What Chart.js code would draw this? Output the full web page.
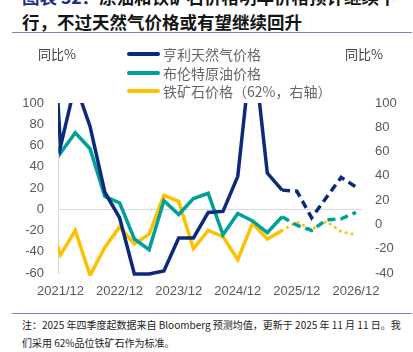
<!DOCTYPE html>
<html>
<head>
<meta charset="utf-8">
<script src="https://cdn.jsdelivr.net/npm/chart.js@4.4.0/dist/chart.umd.min.js"></script>
<style>
  html, body { margin: 0; padding: 0; background: #fff; }
  body { width: 413px; height: 352px; position: relative; overflow: hidden; font-family: 'Noto Sans CJK SC', sans-serif; }
  .title { position: absolute; left: 22px; font-size: 17.5px; font-weight: 700; line-height: 22px; color: #151515; white-space: nowrap; }
  .title .tag { color: #1d2c86; }
  .rule { position: absolute; left: 12px; width: 400px; height: 1px; background: #8080b8; }
  #chart-box { position: absolute; left: 0; top: 36px; width: 413px; height: 272px; }
  .legend { position: absolute; left: 127px; top: 45px; font-size: 14px; color: #666; }
  .legend-item { display: flex; align-items: center; height: 18.5px; white-space: nowrap; }
  .legend-line { width: 33px; height: 4px; margin-right: 3px; border-radius: 2px; }
  .unit { position: absolute; top: 45px; font-size: 13px; line-height: 18px; color: #404040; }
  .note { position: absolute; left: 22px; font-size: 10px; line-height: 18px; color: #222; white-space: nowrap; }
</style>
</head>
<body>
<div class="title" style="top:-14px"><span class="tag">图表 32：</span>原油和铁矿石价格明年价格预计继续下</div>
<div class="title" style="top:10.5px">行，不过天然气价格或有望继续回升</div>
<div class="rule" style="top:32px"></div>

<div id="chart-box"><canvas id="chart"></canvas></div>

<div class="unit" style="left:38px">同比%</div>
<div class="unit" style="left:345px">同比%</div>
<div class="legend" id="legend"></div>

<div class="rule" style="top:313px"></div>
<div class="note" style="top:316px">注：2025 年四季度起数据来自 Bloomberg 预测均值，更新于 2025 年 11 月 11 日。我</div>
<div class="note" style="top:334px">们采用 62%品位铁矿石作为标准。</div>

<script>
// quarterly YoY %, first quarter only feeds the line entering the left edge
const quarters = [
  '2021/09', '2021/12', '2022/03', '2022/06', '2022/09', '2022/12',
  '2023/03', '2023/06', '2023/09', '2023/12', '2024/03', '2024/06',
  '2024/09', '2024/12', '2025/03', '2025/06', '2025/09', '2025/12',
  '2026/03', '2026/06', '2026/09', '2026/12',
];
const henryHubYoY = [300, 59, 118, 78, 16, -8, -61, -61, -58, -27, -27, -3, -2, 31, 160, 34, 18, 17, -8, 11, 30, 21];
const brentYoY = [75, 53, 72, 57, 12, 6, -28, -38, 8, -5, 10, 15, -24, -4, -11, -22, -7, -15, -20, -10, -9, -3];
const ironOreYoY = [10, -25, -5, -42, -19, -2, -16, -8, 24, 19, -20, -5, -10, -29, 1, -12, -5, 2, -4, 2.5, -6, -8.5];

const seriesNames = ['亨利天然气价格', '布伦特原油价格', '铁矿石价格（62%，右轴）'];
const seriesColors = ['#0b2a78', '#00a099', '#ffc000'];
const lastActual = '2025/09';
const xTickLabels = ['2021/12', '2022/12', '2023/12', '2024/12', '2025/12', '2026/12'];
const leftAxisRange = [-60, 100];
const rightAxisRange = [-40, 100];

const firstShown = quarters.indexOf('2021/12');
const forecastIndex = quarters.indexOf(lastActual);

function toPoints(values) {
  return values.map((v, i) => ({ x: i, y: v }));
}

function isForecast(ctx) {
  return ctx.p0.parsed.x >= forecastIndex;
}

const tickFont = { family: "'Liberation Sans', Arial, sans-serif", size: 13 };
const edgeClip = { left: 0, top: 0, right: 2, bottom: 3 };

// legend as plain text next to coloured bars
const legendEl = document.getElementById('legend');
seriesNames.forEach((name, i) => {
  const item = document.createElement('div');
  item.className = 'legend-item';
  const bar = document.createElement('span');
  bar.className = 'legend-line';
  bar.style.background = seriesColors[i];
  const label = document.createElement('span');
  label.textContent = name;
  item.appendChild(bar);
  item.appendChild(label);
  legendEl.appendChild(item);
});

new Chart(document.getElementById('chart'), {
  type: 'line',
  data: {
    datasets: [
      {
        label: seriesNames[0],
        data: toPoints(henryHubYoY),
        borderColor: seriesColors[0],
        borderWidth: 3.5,
        yAxisID: 'y',
        clip: edgeClip,
        segment: { borderDash: ctx => (isForecast(ctx) ? [8, 5] : undefined) },
      },
      {
        label: seriesNames[1],
        data: toPoints(brentYoY),
        borderColor: seriesColors[1],
        borderWidth: 3.5,
        yAxisID: 'y',
        clip: edgeClip,
        segment: { borderDash: ctx => (isForecast(ctx) ? [8, 5] : undefined) },
      },
      {
        label: seriesNames[2],
        data: toPoints(ironOreYoY),
        borderColor: seriesColors[2],
        borderWidth: 3.5,
        yAxisID: 'y1',
        clip: edgeClip,
        segment: {
          borderDash: ctx => (isForecast(ctx) ? [0.1, 6] : undefined),
          borderCapStyle: ctx => (isForecast(ctx) ? 'round' : undefined),
          borderWidth: ctx => (isForecast(ctx) ? 3 : undefined),
        },
      },
    ],
  },
  options: {
    responsive: true,
    maintainAspectRatio: false,
    animation: false,
    events: [],
    layout: { padding: { top: 67, left: 0, right: 0, bottom: 0 } },
    elements: { point: { radius: 0 }, line: { tension: 0, borderJoinStyle: 'miter' } },
    plugins: { legend: { display: false }, tooltip: { enabled: false } },
    scales: {
      x: {
        type: 'linear',
        min: firstShown - 0.17,
        max: quarters.length - 1 + 0.41,
        grid: { display: false, drawTicks: false },
        border: { display: false },
        afterBuildTicks: axis => {
          axis.ticks = xTickLabels.map(label => ({ value: quarters.indexOf(label) }));
        },
        afterFit: axis => { axis.height = 35; },
        ticks: {
          autoSkip: false,
          maxRotation: 0,
          padding: 11,
          color: '#595959',
          font: tickFont,
          callback: value => quarters[value],
        },
      },
      y: {
        position: 'left',
        min: leftAxisRange[0],
        max: leftAxisRange[1],
        grid: {
          drawTicks: false,
          color: ctx => (ctx.tick && ctx.tick.value === 0 ? '#d9d9d9' : 'rgba(0,0,0,0)'),
        },
        border: { display: true, color: '#d9d9d9' },
        afterFit: axis => { axis.width = 58; },
        ticks: { stepSize: 20, padding: 14, color: '#595959', font: tickFont },
      },
      y1: {
        position: 'right',
        min: rightAxisRange[0],
        max: rightAxisRange[1],
        grid: { display: false, drawTicks: false },
        border: { display: false },
        afterFit: axis => { axis.width = 51; },
        ticks: { stepSize: 20, padding: 13, color: '#595959', font: tickFont },
      },
    },
  },
});
</script>
</body>
</html>
